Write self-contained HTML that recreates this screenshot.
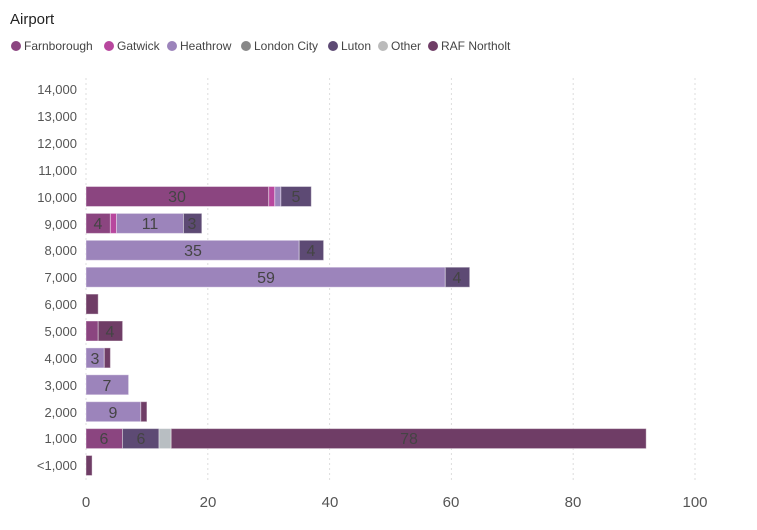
<!DOCTYPE html><html><head><style>body{margin:0;background:#fff;font-family:"Liberation Sans",sans-serif}</style></head><body>
<svg width="757" height="525" xmlns="http://www.w3.org/2000/svg" font-family="Liberation Sans, sans-serif">
<text x="10" y="24" font-size="15" fill="#222">Airport</text>
<g font-size="12" fill="#444">
<circle cx="16" cy="46" r="5" fill="#8B4580"/><text x="24" y="50">Farnborough</text>
<circle cx="109" cy="46" r="5" fill="#B8479E"/><text x="117" y="50">Gatwick</text>
<circle cx="172" cy="46" r="5" fill="#9C84BB"/><text x="180" y="50">Heathrow</text>
<circle cx="246" cy="46" r="5" fill="#888"/><text x="254" y="50">London City</text>
<circle cx="333" cy="46" r="5" fill="#5D4A74"/><text x="341" y="50">Luton</text>
<circle cx="383" cy="46" r="5" fill="#bbb"/><text x="391" y="50">Other</text>
<circle cx="433" cy="46" r="5" fill="#6F3D66"/><text x="441" y="50">RAF Northolt</text>
</g>
<g stroke="#ddd" stroke-dasharray="2,3">
<line x1="207.8" y1="78" x2="207.8" y2="480"/><line x1="329.6" y1="78" x2="329.6" y2="480"/><line x1="451.4" y1="78" x2="451.4" y2="480"/><line x1="573.2" y1="78" x2="573.2" y2="480"/><line x1="695" y1="78" x2="695" y2="480"/><line x1="86" y1="78" x2="86" y2="480"/>
</g>
<g font-size="13" fill="#555" text-anchor="end">
<text x="77" y="94">14,000</text><text x="77" y="121">13,000</text><text x="77" y="148">12,000</text><text x="77" y="175">11,000</text><text x="77" y="202">10,000</text><text x="77" y="229">9,000</text><text x="77" y="255">8,000</text><text x="77" y="282">7,000</text><text x="77" y="309">6,000</text><text x="77" y="336">5,000</text><text x="77" y="363">4,000</text><text x="77" y="390">3,000</text><text x="77" y="417">2,000</text><text x="77" y="443">1,000</text><text x="77" y="470">&lt;1,000</text>
</g>
<g font-size="15" fill="#555" text-anchor="middle">
<text x="86" y="507">0</text><text x="208" y="507">20</text><text x="330" y="507">40</text><text x="451" y="507">60</text><text x="573" y="507">80</text><text x="695" y="507">100</text>
</g>
<g stroke="#fff" stroke-opacity="0.4" stroke-width="1">
<rect x="86" y="186.5" width="182.7" height="20" fill="#8B4580"/><rect x="268.7" y="186.5" width="6.1" height="20" fill="#B8479E"/><rect x="274.8" y="186.5" width="6.1" height="20" fill="#9C84BB"/><rect x="280.9" y="186.5" width="30.4" height="20" fill="#5D4A74"/>
<rect x="86" y="213.4" width="24.4" height="20" fill="#8B4580"/><rect x="110.4" y="213.4" width="6.1" height="20" fill="#B8479E"/><rect x="116.5" y="213.4" width="67" height="20" fill="#9C84BB"/><rect x="183.5" y="213.4" width="18.3" height="20" fill="#5D4A74"/>
<rect x="86" y="240.3" width="213.2" height="20" fill="#9C84BB"/><rect x="299.2" y="240.3" width="24.4" height="20" fill="#5D4A74"/>
<rect x="86" y="267.2" width="359.3" height="20" fill="#9C84BB"/><rect x="445.3" y="267.2" width="24.4" height="20" fill="#5D4A74"/>
<rect x="86" y="294.1" width="12.2" height="20" fill="#6F3D66"/>
<rect x="86" y="321" width="12.2" height="20" fill="#8B4580"/><rect x="98.2" y="321" width="24.4" height="20" fill="#6F3D66"/>
<rect x="86" y="347.9" width="18.3" height="20" fill="#9C84BB"/><rect x="104.3" y="347.9" width="6.1" height="20" fill="#6F3D66"/>
<rect x="86" y="374.8" width="42.6" height="20" fill="#9C84BB"/>
<rect x="86" y="401.7" width="54.8" height="20" fill="#9C84BB"/><rect x="140.8" y="401.7" width="6.1" height="20" fill="#6F3D66"/>
<rect x="86" y="428.6" width="36.5" height="20" fill="#8B4580"/><rect x="122.5" y="428.6" width="36.5" height="20" fill="#5D4A74"/><rect x="159" y="428.6" width="12.2" height="20" fill="#B8BEC2"/><rect x="171.2" y="428.6" width="475" height="20" fill="#6F3D66"/>
<rect x="86" y="455.5" width="6.1" height="20" fill="#6F3D66"/>
</g>
<g font-size="16" fill="#444" text-anchor="middle">
<text x="177" y="202">30</text><text x="296" y="202">5</text>
<text x="98" y="229">4</text><text x="150" y="229">11</text><text x="192" y="229">3</text>
<text x="193" y="256">35</text><text x="311" y="256">4</text>
<text x="266" y="283">59</text><text x="457" y="283">4</text>
<text x="110" y="337">4</text><text x="95" y="364">3</text><text x="107" y="391">7</text><text x="113" y="418">9</text>
<text x="104" y="444">6</text><text x="141" y="444">6</text><text x="409" y="444">78</text>
</g>
</svg></body></html>
